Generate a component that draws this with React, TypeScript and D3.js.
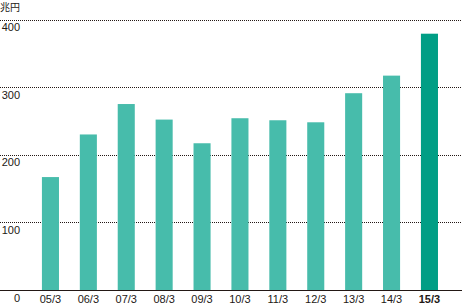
import React from "react";
import * as d3 from "d3";

const categories = ["05/3", "06/3", "07/3", "08/3", "09/3", "10/3", "11/3", "12/3", "13/3", "14/3", "15/3"];
const values = [167, 230, 275, 252, 217, 254, 251, 248, 291, 317, 379];
const yTicks = [0, 100, 200, 300, 400];
const unitLabel = "兆円";

const W = 462;
const H = 308;

export default function App() {
  const x = d3
    .scaleBand<string>()
    .domain(categories)
    .range([31.5, 31.5 + 11 * 37.9])
    .paddingInner(0.55)
    .paddingOuter(0.275);
  const y = d3.scaleLinear().domain([0, 400]).range([290, 19.5]);
  const font = "'Liberation Sans', Arial, sans-serif";
  const last = categories.length - 1;

  return (
    <svg
      width={W}
      height={H}
      style={{ position: "absolute", left: 0, top: 0, display: "block" }}
      fontFamily={font}
    >
      <rect x={0} y={0} width={W} height={H} fill="#fff" />
      <text x={0} y={11} fontSize={10} fill="#231815" fontFamily="'Noto Sans CJK JP', sans-serif">
        {unitLabel}
      </text>
      {yTicks.filter((t) => t > 0).map((t) => (
        <line
          key={"g" + t}
          x1={0}
          x2={W}
          y1={Math.round(y(t)) + 0.5}
          y2={Math.round(y(t)) + 0.5}
          stroke="#231815"
          strokeWidth={1}
          strokeDasharray="1,1"
        />
      ))}
      {yTicks.map((t) => (
        <text key={"t" + t} x={20} y={y(t) + 11.5} fontSize={11} textAnchor="end" fill="#231815">
          {t}
        </text>
      ))}
      {values.map((v, i) => (
        <rect
          key={categories[i]}
          x={x(categories[i])}
          y={y(v)}
          width={x.bandwidth()}
          height={y(0) - y(v)}
          fill={i === last ? "#009e85" : "#47bcab"}
        />
      ))}
      <line x1={0} x2={W} y1={290.5} y2={290.5} stroke="#231815" strokeWidth={1.2} />
      {categories.map((c, i) => (
        <text
          key={"x" + c}
          x={(x(c) as number) + x.bandwidth() / 2}
          y={303}
          fontSize={11}
          textAnchor="middle"
          fontWeight={i === last ? "bold" : "normal"}
          fill="#231815"
        >
          {c}
        </text>
      ))}
    </svg>
  );
}
